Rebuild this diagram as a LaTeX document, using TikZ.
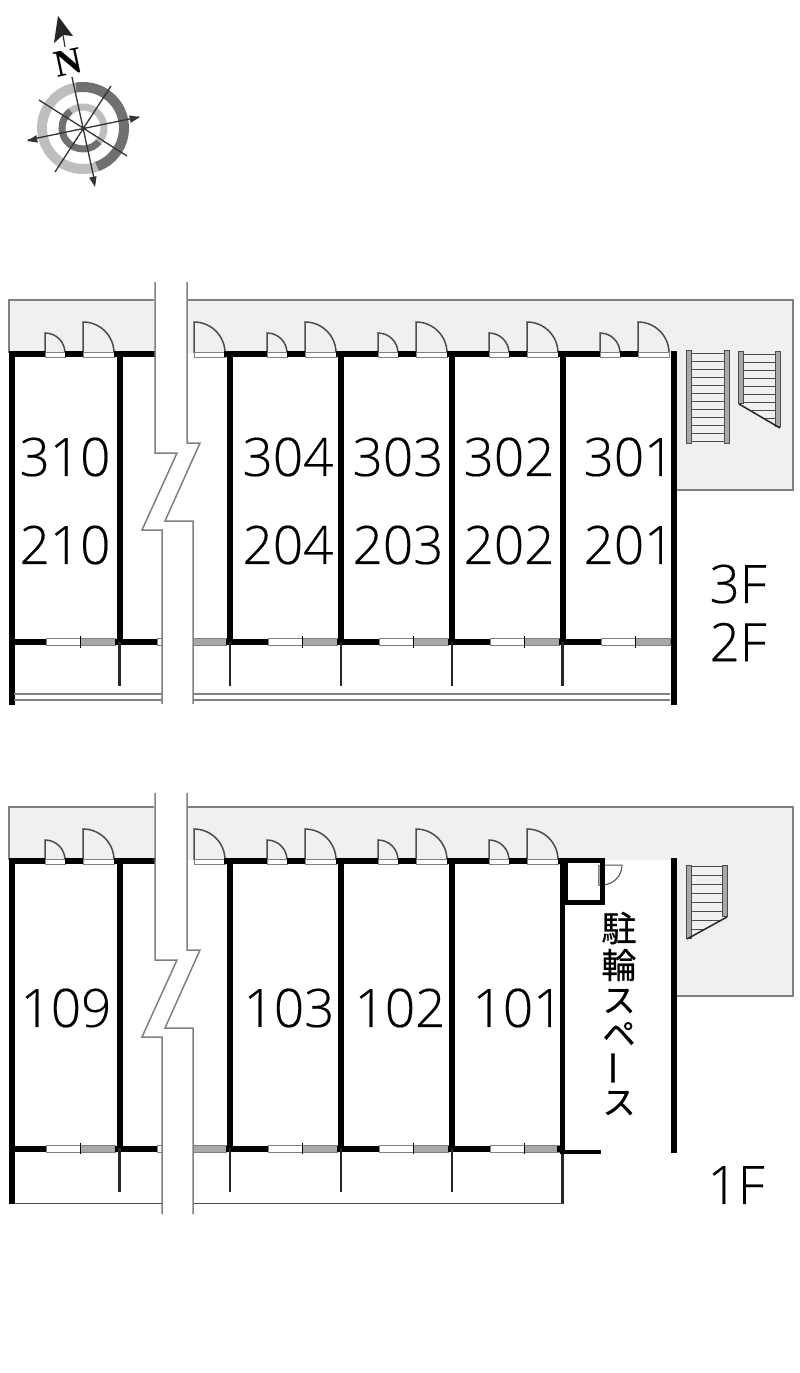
\documentclass[tikz,border=0pt]{standalone}
\usepackage{fontspec}
\setmainfont[FakeBold=0.3]{Open Sans Light}
\newfontfamily\cjkfont[FakeBold=0.7]{Noto Sans CJK JP}
\newfontfamily\northfont{Liberation Serif}
\usetikzlibrary{calc}
\definecolor{floorgray}{HTML}{F0F0F0}
\definecolor{linegray}{HTML}{808080}
\definecolor{ringdark}{HTML}{707070}
\definecolor{ringlight}{HTML}{BEBEBE}
\definecolor{panegray}{HTML}{A8A8A8}
\tikzset{
	wall/.style={line width=6pt,black},
	partition/.style={line width=2.4pt,black!85},
	outline/.style={line width=1.5pt,linegray},
	roomlabel/.style={font=\fontsize{53}{53}\selectfont,inner sep=0pt},
	floorlabel/.style={font=\fontsize{53}{53}\selectfont,inner sep=0pt},
	kanjilabel/.style={font=\cjkfont\fontsize{35}{35}\selectfont,inner sep=0pt},
	kanalabel/.style={font=\cjkfont\fontsize{33}{33}\selectfont,inner sep=0pt},
	needle/.style={line width=1.3pt,black!80},
}
% door leaf at x #1, wall y #2, width #3
\newcommand{\DoorLeaf}[3]{
	\draw[line width=1.5pt,black!70] (#1,#2) -- (#1,#2-#3) arc[start angle=-90,end angle=0,radius=#3];
	\draw[line width=1pt,linegray,fill=white] (#1,#2-1) rectangle (#1+#3,#2+4.5);
}
% window pair starting at x #1, y #2
\newcommand{\WindowPair}[2]{
	\draw[line width=1pt,linegray,fill=white] (#1,#2-3.5) rectangle (#1+34,#2+3.5);
	\draw[line width=1pt,linegray,fill=panegray] (#1+34,#2-3.5) rectangle (#1+69,#2+3.5);
	\draw[line width=1pt,black] (#1+34,#2-6) -- (#1+34,#2+5.5);
}
% stair rail at x #1 from y #2 to y #3
\newcommand{\StairRail}[3]{
	\draw[line width=.8pt,black!70,fill=panegray] (#1-2.2,#2) rectangle (#1+2.2,#3);
}
\begin{document}
\begin{tikzpicture}[x=1pt,y=-1pt]
	\useasboundingbox (0,0) rectangle (800,1373);

	% Upper floors: gray corridor
	\fill[floorgray] (9,300) -- (793,300) -- (793,490) -- (674,490) -- (674,353) -- (9,353) -- cycle;
	\draw[outline] (9,353) -- (9,300) -- (154,300);
	\draw[outline] (186,300) -- (793,300) -- (793,490) -- (674,490);
	% Ground floor: gray corridor
	\fill[floorgray] (9,807) -- (793,807) -- (793,996) -- (674,996) -- (674,860) -- (9,860) -- cycle;
	\draw[outline] (9,860) -- (9,807) -- (154,807);
	\draw[outline] (186,807) -- (793,807) -- (793,996) -- (674,996);

	% Doors
	\foreach \y/\last in {353/5,860/4}{
		\foreach \k in {0,...,\last}{
			\pgfmathsetmacro{\dx}{111*\k}
			\ifnum\k=1\else
				\DoorLeaf{45+\dx}{\y}{20}
			\fi
			\DoorLeaf{83+\dx}{\y}{31}
		}
	}

	% Windows
	\foreach \y/\last in {642/5,1148.5/4}{
		\foreach \k in {0,...,\last}{
			\pgfmathsetmacro{\dx}{111*\k}
			\WindowPair{46+\dx}{\y}
		}
	}

	% Walls, upper floors
	\foreach \xa/\xb in {9/45,65/83,114/157,224/267,287/305,336/378,398/416,447/489,509/527,558/600,620/638}
		\draw[wall,line cap=butt] (\xa,354) -- (\xb,354);
	\foreach \xa/\xb in {9/46,115/157,226/268,337/379,448/490,559/601}
		\draw[wall,line cap=butt] (\xa,642) -- (\xb,642);
	\foreach \x in {119.5,230,341,452,562.5}{
		\draw[wall] (\x,353) -- (\x,644);
		\draw[partition] (\x,642) -- (\x,686);
	}
	\draw[wall] (11.5,351) -- (11.5,704.5);
	\draw[wall] (673.5,351) -- (673.5,704.5);
	\draw[outline] (14,694) -- (162,694) (14,700) -- (162,700);
	\draw[outline] (193,694) -- (670,694) (193,700) -- (670,700);

	% Walls, ground floor
	\foreach \xa/\xb in {9/45,65/83,114/157,224/267,287/305,336/378,398/416,447/489,509/527,558/567}
		\draw[wall,line cap=butt] (\xa,860.5) -- (\xb,860.5);
	\foreach \xa/\xb in {9/46,115/157,226/268,337/379,448/490,557/565}
		\draw[wall,line cap=butt] (\xa,1148.5) -- (\xb,1148.5);
	\foreach \x in {119.5,230,341,452}{
		\draw[wall] (\x,860) -- (\x,1150);
		\draw[partition] (\x,1148) -- (\x,1192);
	}
	\draw[wall] (11.5,857.5) -- (11.5,1204);
	\draw[line width=4.8pt,black] (562.5,857.5) -- (562.5,1152);
	\draw[partition] (562.5,1150) -- (562.5,1204);
	\draw[line width=4pt,black] (560,1152) -- (601,1152);
	\draw[wall] (673.5,858) -- (673.5,1153);
	\draw[outline,black!70] (14,1203.5) -- (162,1203.5);
	\draw[outline,black!70] (193,1203.5) -- (563,1203.5);

	% Bicycle room box and its door
	\draw[line width=1pt,linegray,fill=panegray] (598,865) rectangle (602,885);
	\draw[line width=1pt,black!70] (602,865) -- (622,865) arc[start angle=0,end angle=90,radius=20];
	\draw[line width=5pt,black] (565,860) rectangle (602,902);

	% Cut through the building
	\foreach \dy/\ya/\yb in {0/282/704,507/793/1214}{
		\fill[white] (155,\ya) -- (155,453+\dy) -- (177,453+\dy) -- (142,530+\dy) -- (162,530+\dy) -- (162,\yb) -- (193,\yb) -- (193,521+\dy) -- (165,521+\dy) -- (200,443+\dy) -- (187,443+\dy) -- (187,\ya) -- cycle;
		\draw[outline] (155,\ya) -- (155,453+\dy) -- (177,453+\dy) -- (142,530+\dy) -- (162,530+\dy) -- (162,\yb);
		\draw[outline] (187,\ya) -- (187,443+\dy) -- (200,443+\dy) -- (165,521+\dy) -- (193,521+\dy) -- (193,\yb);
	}

	% Stairs
	\foreach \y in {353,361,...,443}
		\draw[line width=1pt,black!70] (689,\y) -- (727,\y);
	\StairRail{689}{350}{443}
	\StairRail{727}{350}{443}
	\foreach \y in {354,362,...,426}
		\draw[line width=1pt,black!70] (741,\y) -- (778,\y);
	\fill[floorgray] (741,404) -- (779,427) -- (779,440) -- (741,440) -- cycle;
	\StairRail{741}{351}{403}
	\StairRail{778}{351}{426}
	\draw[line width=1.5pt,black!85] (739,404) -- (780,428);
	\foreach \y in {866,875,...,930}
		\draw[line width=1pt,black!70] (688,\y) -- (725,\y);
	\fill[floorgray] (686,939) -- (727,917) -- (727,945) -- (686,945) -- cycle;
	\StairRail{689}{865}{938}
	\StairRail{725}{865}{916}
	\draw[line width=1.5pt,black!85] (687,939) -- (727,917);

	% Define nodes
	\foreach \nm/\x/\y/\txt in {r310/65/457/310,r304/288/457/304,r303/398/457/303,r302/509/457/302,r301/629/457/301,r210/65/545/210,r204/288/545/204,r203/398/545/203,r202/509/545/202,r201/629/545/201,r109/66/1008/109,r103/289/1008/103,r102/400/1008/102,r101/518/1008/101}
		\node[roomlabel] (\nm) at (\x,\y) {\txt};
	\node[floorlabel] (f3) at (738,584) {3F};
	\node[floorlabel] (f2) at (738,642) {2F};
	\node[floorlabel] (f1) at (736,1185) {1F};
	\node[kanjilabel] (ka) at (619,928) {駐};
	\node[kanjilabel] (kb) at (619,965) {輪};
	\node[kanalabel] (kc) at (619,1001) {ス};
	\node[kanalabel] (kd) at (619,1034) {ペ};
	\node[kanalabel,font=\cjkfont\fontsize{36}{36}\selectfont,rotate=90] (ke) at (619,1068) {ー};
	\node[kanalabel] (kf) at (619,1103) {ス};

	% Compass
	\coordinate (cc) at (83,128);
	\draw[ringlight,line width=10pt] (cc) ++(-100:41) arc[start angle=-100,end angle=-290,radius=41];
	\draw[ringdark,line width=10pt] (cc) ++(-100:41) arc[start angle=-100,end angle=70,radius=41];
	\draw[ringdark,line width=7pt] (cc) ++(-125:21) arc[start angle=-125,end angle=-320,radius=21];
	\draw[ringlight,line width=7pt] (cc) ++(-125:21) arc[start angle=-125,end angle=40,radius=21];
	\draw[needle] (72,77) -- (95,183) (39,100) -- (127,156) (111,86) -- (55,172) (28,140) -- (139,117);
	\foreach \tipx/\tipy/\ang in {95/187/78,140/117/-12,27/141/168}
		\fill[black!80] (\tipx,\tipy) -- ($(\tipx,\tipy)+(\ang+160:11)$) -- ($(\tipx,\tipy)+(\ang+200:11)$) -- cycle;
	\node[font=\northfont\bfseries\fontsize{38}{38}\selectfont,rotate=12,inner sep=0pt] (north) at (68,62) {N};
	\fill[black!85] (58,16) -- (54,43) -- (63,35) -- (73,36) -- cycle;
	\draw[line width=1.2pt,black!80] (63,35) -- (65,47);
\end{tikzpicture}
\end{document}
